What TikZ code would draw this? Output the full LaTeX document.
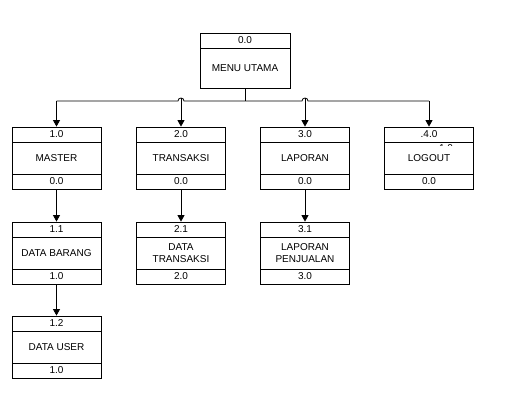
\documentclass[tikz,border=0pt]{standalone}
\usepackage{fontspec}
\setmainfont{Liberation Sans}
\usetikzlibrary{arrows.meta,calc}

\begin{document}
\begin{tikzpicture}[x=1pt,y=-1pt,>={Triangle[width=7pt,length=6.5pt]},line width=0.8pt,
  font=\fontsize{10}{11.5}\selectfont,
  hd/.style={draw,fill=white,inner sep=0pt,minimum width=89pt,minimum height=15pt},
  body/.style={draw,fill=white,inner sep=0pt,minimum width=89pt,minimum height=32pt,align=center}]
\useasboundingbox (0,0) rectangle (528,403);
% menu utama
\node[hd,minimum width=90pt] (m0t) at (245,40.5) {0.0};
\node[body,minimum width=90pt,minimum height=40pt] (m0) at (245,68) {MENU UTAMA};
% level 1
\node[hd]   (c1t) at (56.5,134.5) {1.0};
\node[body] (c1)  at (56.5,158) {MASTER};
\node[hd]   (c1b) at (56.5,181.5) {0.0};
\node[hd]   (c2t) at (181,134.5) {2.0};
\node[body] (c2)  at (181,158) {TRANSAKSI};
\node[hd]   (c2b) at (181,181.5) {0.0};
\node[hd]   (c3t) at (305,134.5) {3.0};
\node[body] (c3)  at (305,158) {LAPORAN};
\node[hd]   (c3b) at (305,181.5) {0.0};
\node[hd]   (c4t) at (429,134.5) {.4.0};
\begin{scope}
  \clip (430,142) rectangle (465,145.5);
  \node (c4x) at (446,148.5) {1.0};
\end{scope}
\node[body,fill=none] (c4)  at (429,158) {LOGOUT};
\node[hd]   (c4b) at (429,181.5) {0.0};
% level 2
\node[hd]   (d1t) at (56.5,229.5) {1.1};
\node[body] (d1)  at (56.5,253) {DATA BARANG};
\node[hd]   (d1b) at (56.5,276.5) {1.0};
\node[hd]   (d2t) at (181,229.5) {2.1};
\node[body] (d2)  at (181,253) {DATA\\TRANSAKSI};
\node[hd]   (d2b) at (181,276.5) {2.0};
\node[hd]   (d3t) at (305,229.5) {3.1};
\node[body] (d3)  at (305,253) {LAPORAN\\PENJUALAN};
\node[hd]   (d3b) at (305,276.5) {3.0};
% level 3
\node[hd]   (e1t) at (56.5,323.5) {1.2};
\node[body] (e1)  at (56.5,347) {DATA USER};
\node[hd]   (e1b) at (56.5,370.5) {1.0};
% connectors
\coordinate (bus) at (245,101);
\draw (m0.south) -- (bus);
\draw (c1t.north |- bus) -- ($(c2t.north |- bus)+(-3,0)$) arc[start angle=180,end angle=0,radius=3pt]
  -- ($(c3t.north |- bus)+(-3,0)$) arc[start angle=180,end angle=0,radius=3pt] -- (c4t.north |- bus);
\draw[->] (c1t.north |- bus) -- (c1t.north);
\draw[->] ($(c2t.north |- bus)+(0,-3)$) -- (c2t.north);
\draw[->] ($(c3t.north |- bus)+(0,-3)$) -- (c3t.north);
\draw[->] (c4t.north |- bus) -- (c4t.north);
\draw[->] (c1b.south) -- (d1t.north);
\draw[->] (c2b.south) -- (d2t.north);
\draw[->] (c3b.south) -- (d3t.north);
\draw[->] (d1b.south) -- (e1t.north);
\end{tikzpicture}
\end{document}
